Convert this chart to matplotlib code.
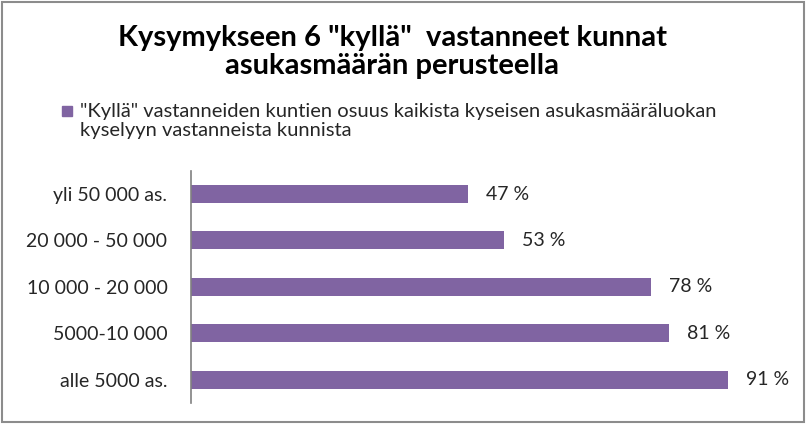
import matplotlib.pyplot as plt
from matplotlib.patches import Rectangle

# data
categories = ['yli 50 000 as.', '20 000 - 50 000', '10 000 - 20 000', '5000-10 000', 'alle 5000 as.']
values = [47, 53, 78, 81, 91]
title = 'Kysymykseen 6 "kyllä"  vastanneet kunnat\nasukasmäärän perusteella'
legend_text = '"Kyllä" vastanneiden kuntien osuus kaikista kyseisen asukasmääräluokan\nkyselyyn vastanneista kunnista'

purple = '#8064A2'
txt = '#262626'
plt.rcParams['font.family'] = ['Lato', 'DejaVu Sans']

fig = plt.figure(figsize=(8.06, 4.24), dpi=100)
ax = fig.add_axes([0.237, 0.05, 0.732, 0.547])

ypos = list(range(len(categories)))
bars = ax.barh(ypos, values, height=0.39, color=purple)
ax.set_yticks(ypos)
ax.set_yticklabels(categories, fontsize=14, color=txt)
ax.set_ylim(len(categories) - 0.5, -0.5)
ax.set_xlim(0, 100)
ax.set_xticks([])
ax.tick_params(axis='y', length=0, pad=17)
ax.bar_label(bars, labels=['%d %%' % v for v in values], padding=13, fontsize=14, color=txt)
for s in ['top', 'right', 'bottom']:
    ax.spines[s].set_visible(False)
ax.spines['left'].set_color('#808080')
ax.spines['left'].set_linewidth(1.2)

fig.text(392 / 806, 1 - 52 / 424, title, ha='center', va='center', fontsize=21, fontweight='bold',
         color='black', linespacing=1.05)

# legend (manual)
fig.patches.append(Rectangle((62 / 806, 1 - 116 / 424), 10 / 806, 10 / 424,
                             transform=fig.transFigure, color=purple))
fig.text(80 / 806, 1 - 121 / 424, legend_text, ha='left', va='center', fontsize=14.5,
         color=txt, linespacing=1.1)

# chart border
fig.patches.append(Rectangle((0.003, 0.005), 0.994, 0.99, transform=fig.transFigure,
                             fill=False, edgecolor='#8c8c8c', linewidth=1.5))

fig.savefig('out.png', dpi=100)
